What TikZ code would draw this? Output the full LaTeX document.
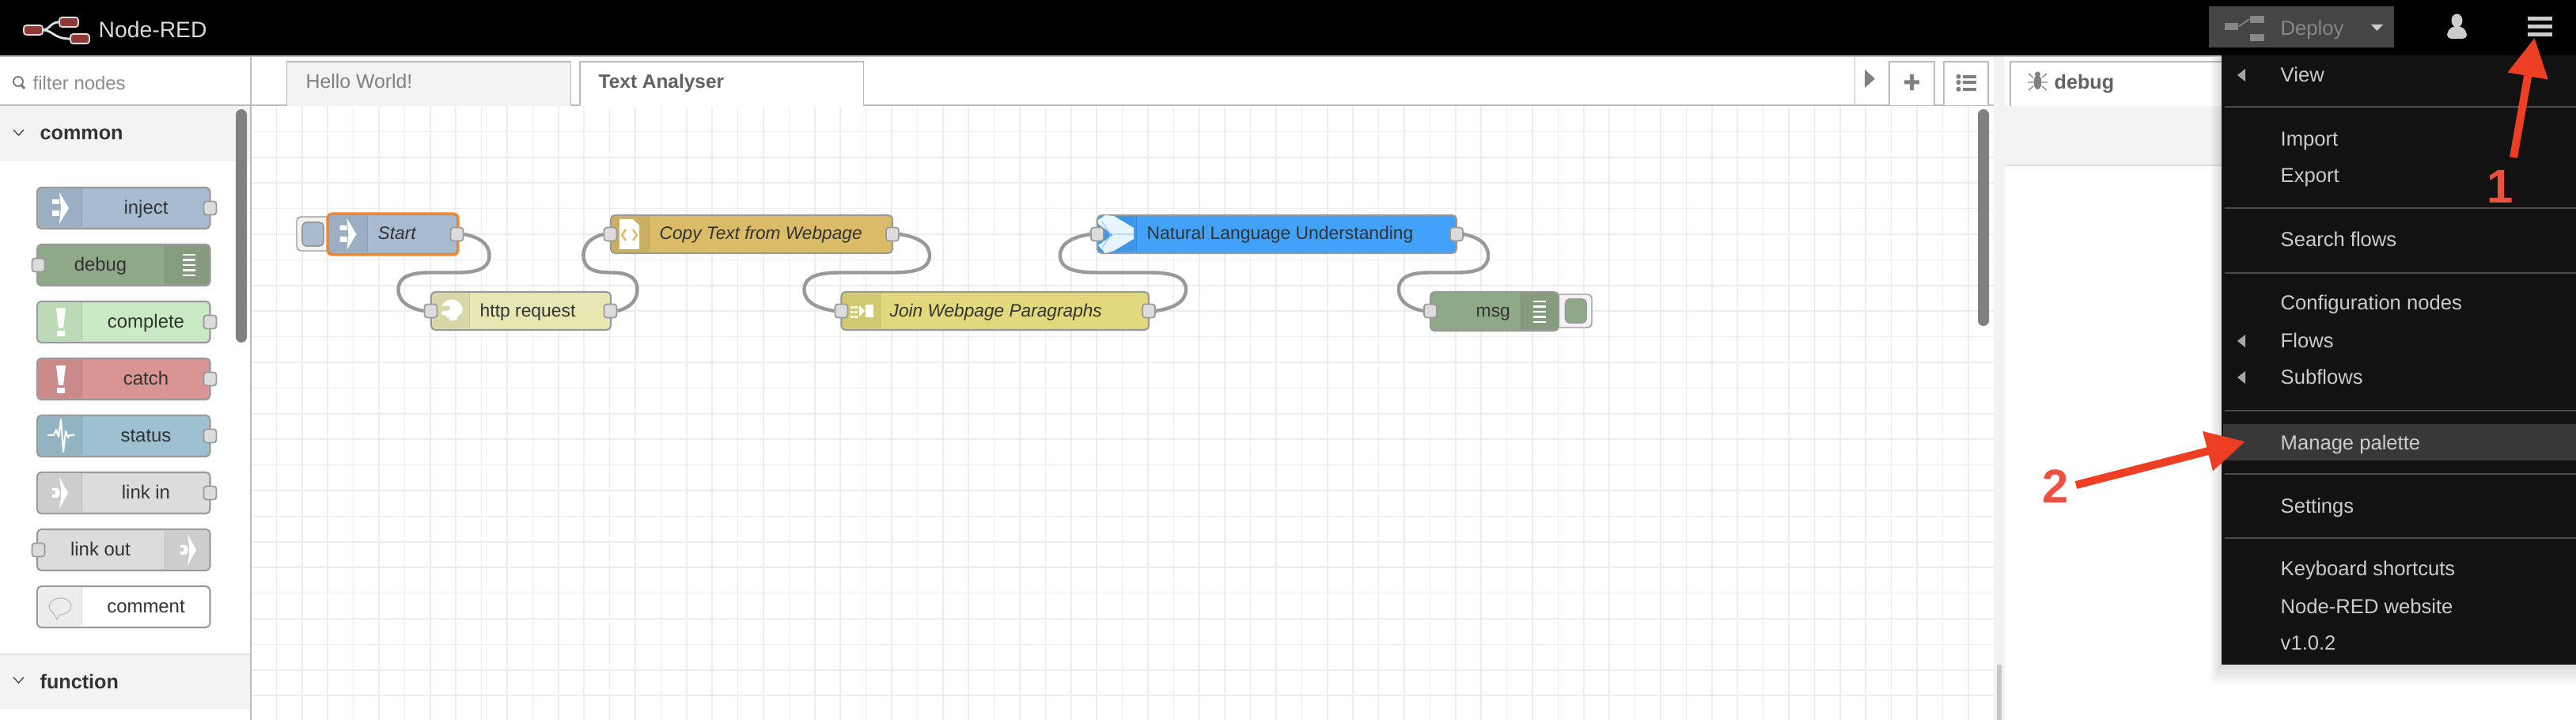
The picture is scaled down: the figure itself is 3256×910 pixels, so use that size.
\documentclass[tikz,border=0pt]{standalone}
\usepackage{fontspec}
\setmainfont{Liberation Sans}
\usetikzlibrary{arrows.meta}

\definecolor{injectc}{HTML}{A8BBD0}
\definecolor{debugc}{HTML}{8FA888}
\definecolor{completec}{HTML}{C9EAC3}
\definecolor{catchc}{HTML}{D99494}
\definecolor{statusc}{HTML}{9DC1D0}
\definecolor{linkc}{HTML}{DCDCDC}
\definecolor{httpc}{HTML}{E7E7B4}
\definecolor{copyc}{HTML}{D9BB68}
\definecolor{joinc}{HTML}{E1D97C}
\definecolor{nluc}{HTML}{42A1F8}
\definecolor{linec}{HTML}{999999}
\definecolor{panelc}{HTML}{F3F3F3}
\definecolor{borderc}{HTML}{BBBBBB}
\definecolor{menuc}{HTML}{121212}
\definecolor{redc}{HTML}{EE3F24}
\definecolor{numberc}{HTML}{EE5040}
\definecolor{selectc}{HTML}{F4862C}
\definecolor{logoc}{HTML}{8F3A36}

\tikzset{
  nodebox/.style={draw=linec, line width=.6pt, rounded corners=1.5pt, inner sep=0pt},
  portbox/.style={draw=linec, fill=linkc, line width=.5pt, rounded corners=1pt, inner sep=0pt, minimum width=.16cm, minimum height=.17cm},
  uitext/.style={inner sep=0pt, text height=5pt, text depth=0pt, text=black!80},
  flowtext/.style={uitext, anchor=west, font=\fontsize{6.5}{8}\selectfont},
  flowitalic/.style={flowtext, font=\itshape\fontsize{6.45}{8}\selectfont},
  palettetext/.style={uitext, font=\fontsize{6.8}{8}\selectfont},
  headtext/.style={uitext, anchor=west, font=\bfseries\fontsize{7.15}{8}\selectfont},
  menutext/.style={uitext, anchor=west, text=black!20, font=\fontsize{7.28}{8}\selectfont},
  wire/.style={draw=linec, line width=1.25pt},
  gridline/.style={draw=black!7, line width=.5pt},
  redarrow/.style={draw=redc, line width=2.85pt, -{Triangle[length=.49cm,width=.49cm]}},
  rednumber/.style={inner sep=0pt, text=numberc, font=\bfseries\fontsize{17}{18}\selectfont},
  logobox/.style={draw=black!12, fill=logoc, line width=.5pt, rounded corners=1pt, inner sep=0pt, minimum width=.24cm, minimum height=.12cm},
  deploybox/.style={fill=black!47, inner sep=0pt, minimum width=.18cm, minimum height=.09cm}
}

% node with icon strip on the left / on the right
\newcommand{\nrleft}[7]{%
  \node[nodebox, fill=#7, minimum width={(#4-#2)*.01cm}, minimum height={(#5-#3)*.01cm}] (#1) at ({(#2+#4)/2},{(#3+#5)/2}) {};
  \fill[#7!93!black] ({#6},{#3+1.5}) {[rounded corners=1.2pt] -- ({#2+1.5},{#3+1.5}) -- ({#2+1.5},{#5-1.5}) -- ({#6},{#5-1.5})} -- cycle;
  \draw[#7!85!black, line width=.25pt] ({#6},{#3+1.5}) -- ({#6},{#5-1.5});
}
\newcommand{\nrright}[7]{%
  \node[nodebox, fill=#7, minimum width={(#4-#2)*.01cm}, minimum height={(#5-#3)*.01cm}] (#1) at ({(#2+#4)/2},{(#3+#5)/2}) {};
  \fill[#7!93!black] ({#6},{#3+1.5}) {[rounded corners=1.2pt] -- ({#4-1.5},{#3+1.5}) -- ({#4-1.5},{#5-1.5}) -- ({#6},{#5-1.5})} -- cycle;
  \draw[#7!85!black, line width=.25pt] ({#6},{#3+1.5}) -- ({#6},{#5-1.5});
}
% wire: source port, target port, bulge, +1 down / -1 up
\newcommand{\wirelink}[4]{%
  \draw[wire] (#1.east) .. controls ([shift={({#3*.6},{#4*3})}]#1.center) and ([shift={(#3,{#4*10})}]#1.center) .. ([shift={(#3,{#4*27})}]#1.center)
    .. controls ([shift={(#3,{#4*44})}]#1.center) and ([shift={({#3*.6},{#4*48.5})}]#1.center) .. ([shift={(0,{#4*48.5})}]#1.center)
    -- ([shift={(0,{-#4*48.5})}]#2.center)
    .. controls ([shift={({-#3*.6},{-#4*48.5})}]#2.center) and ([shift={(-#3,{-#4*44})}]#2.center) .. ([shift={(-#3,{-#4*27})}]#2.center)
    .. controls ([shift={(-#3,{-#4*10})}]#2.center) and ([shift={({-#3*.6},{-#4*3})}]#2.center) .. (#2.west);
}
\newcommand{\injecticon}[2]{%
  \begin{scope}[shift={(#1,#2)}]
    \fill[white] (-10,-11) rectangle (-1,-5) (-10,3) rectangle (-1,10);
    \fill[white] (-1,-20) -- (11,0) -- (-1,20) -- (1,0) -- cycle;
  \end{scope}
}
\newcommand{\linesicon}[2]{%
  \begin{scope}[shift={(#1,#2)}]
    \foreach \ly in {-13,-6.5,0,6.5,13} \fill[white] (-8,{\ly-1.2}) rectangle (8,{\ly+1.2});
  \end{scope}
}
\newcommand{\bangicon}[2]{%
  \begin{scope}[shift={(#1,#2)}]
    \fill[white] (-6,-13) -- (6,-13) -- (3,12) -- (-3,12) -- cycle;
    \fill[white] (-5,15.5) rectangle (5,22.5);
  \end{scope}
}
\newcommand{\linkicon}[2]{%
  \begin{scope}[shift={(#1,#2)}]
    \fill[white] (-1,-20) -- (10,0) -- (-1,20) -- (1,6) -- (1,-6) -- cycle;
    \fill[white] (-10,-6) -- (-4,-6) .. controls (1,-6) and (1,6) .. (-4,6) -- (-10,6) -- cycle;
    \fill[linkc!93!black] (-10,-2.5) rectangle (-6,2.5);
  \end{scope}
}

\begin{document}
\begin{tikzpicture}[x=.01cm, y=-.01cm]
\useasboundingbox (0,0) rectangle (3256,910);
\fill[white] (0,0) rectangle (3256,910);

% workspace grid
\foreach \k in {1,...,67} \draw[gridline] ({317+32.4*\k},134) -- ({317+32.4*\k},910);
\foreach \k in {1,...,23} \draw[gridline] (318,{134+32.4*\k}) -- (2520,{134+32.4*\k});

% top bar
\fill[black] (0,0) rectangle (3256,70);
\fill[borderc] (0,70) rectangle (3256,72);
\node[logobox] (logoa) at (42,38) {};
\node[logobox] (logob) at (87,28) {};
\node[logobox] (logoc) at (101,49) {};
\draw[black!12, line width=.8pt] (logoa.east) .. controls (62,38) and (64,28) .. (logob.west);
\draw[black!12, line width=.8pt] (logoa.east) .. controls (66,38) and (68,49) .. (logoc.west);
\node[uitext, anchor=west, text=black!15, font=\fontsize{8.05}{9}\selectfont] (title) at (124,39) {Node-RED};

% deploy button, user, menu button
\fill[black!73] (2792,8) rectangle (3026,60);
\node[deploybox, minimum width=.17cm] (deploya) at (2820.5,33.5) {};
\node[deploybox] (deployb) at (2852.5,24.5) {};
\node[deploybox] (deployc) at (2852.5,47.5) {};
\draw[black!47, line width=.5pt] (deploya.east) -- (deployb.west);
\node[menutext, text=black!47] (deploy) at (2882,36) {Deploy};
\fill[black!20] (2997,31) -- (3012,31) -- (3004.5,39) -- cycle;
\fill[black!20] (3105.5,26) ellipse (7 and 8.5);
\fill[black!20, rounded corners=1.5pt] (3093,49) -- (3093,40) -- (3100,33) -- (3111,33) -- (3118,40) -- (3118,49) -- cycle;
\node[minimum width=.32cm, minimum height=.26cm, inner sep=0pt] (menubtn) at (3210,33) {};
\foreach \by in {20.7,30.7,41} \fill[black!20] (3194.5,\by) rectangle (3225.5,{\by+5});

% palette
\fill[borderc] (0,132) rectangle (317,134);
\fill[borderc] (316,72) rectangle (318,910);
\fill[panelc] (0,134) rectangle (316,204);
\fill[panelc] (0,827) rectangle (316,896);
\fill[black!12] (0,826) rectangle (316,828);
\fill[black!50, rounded corners=2pt] (298,138) rectangle (312,433);
\draw[black!55, line width=.5pt] (23,103) circle (6);
\draw[black!55, line width=.8pt] (27.5,108) -- (31,112);
\node[uitext, anchor=west, text=black!45, font=\fontsize{6.8}{8}\selectfont] (filter) at (41,105) {filter nodes};
\draw[black!70, line width=.4pt] (17,164) -- (23.5,171) -- (30,164);
\node[headtext] (common) at (50,168) {common};
\draw[black!70, line width=.4pt] (17,856) -- (23.5,863) -- (30,856);
\node[headtext] (function) at (50,862) {function};

\nrleft{ninject}{47}{237}{265.5}{289}{103.6}{injectc}
\nrright{ndebug}{47}{309}{265.5}{361}{208.5}{debugc}
\nrleft{ncomplete}{47}{381}{265.5}{433}{103.6}{completec}
\nrleft{ncatch}{47}{453}{265.5}{505}{103.6}{catchc}
\nrleft{nstatus}{47}{525}{265.5}{577}{103.6}{statusc}
\nrleft{nlinkin}{47}{597}{265.5}{649}{103.6}{linkc}
\nrright{nlinkout}{47}{669}{265.5}{721}{208.5}{linkc}
\nrleft{ncomment}{47}{741}{265.5}{793}{103.6}{white}
\injecticon{76}{263}
\linesicon{239}{335}
\bangicon{77}{402.5}
\bangicon{77}{475}
\draw[white, line width=.6pt, line join=round] (60,550) -- (68,550) -- (71,543) -- (74,552) -- (77,530) -- (80,571) -- (83,545) -- (86,553) -- (88,550) -- (94,550);
\linkicon{76}{623}
\linkicon{238}{695}
\draw[black!28, line width=.3pt] (72,783) -- (68,775) .. controls (56,768) and (64,756) .. (77,756) .. controls (94,756) and (95,776) .. (75,777) -- cycle;
\node[palettetext] (tinject) at (184.5,262) {inject};
\node[palettetext] (tdebug) at (127,334) {debug};
\node[palettetext] (tcomplete) at (184.5,406) {complete};
\node[palettetext] (tcatch) at (184.5,478) {catch};
\node[palettetext] (tstatus) at (184.5,550) {status};
\node[palettetext] (tlinkin) at (184.5,622) {link in};
\node[palettetext] (tlinkout) at (127,694) {link out};
\node[palettetext] (tcomment) at (184.5,766) {comment};
\foreach \py/\pn in {263/ninject,407/ncomplete,479/ncatch,551/nstatus,623/nlinkin}
  \node[portbox] (p\pn) at (265.5,\py) {};
\foreach \py/\pn in {335/ndebug,695/nlinkout}
  \node[portbox] (p\pn) at (48.5,\py) {};

% tabs
\fill[borderc] (318,132) rectangle (2520,134);
\filldraw[fill=panelc, draw=borderc, line width=.55pt] (362.5,134) -- (362.5,78) -- (721.5,78) -- (721.5,134);
\filldraw[fill=white, draw=borderc, line width=.55pt] (733,134) -- (733,78) -- (1091.5,78) -- (1091.5,134);
\fill[white] (734,131) rectangle (1090.5,135);
\node[uitext, anchor=west, text=black!50, font=\fontsize{7.05}{8}\selectfont] (hello) at (386,103) {Hello World!};
\node[headtext, text=black!62, font=\bfseries\fontsize{6.95}{8}\selectfont] (analyser) at (756,103) {Text Analyser};
\draw[borderc, line width=.55pt] (2344.5,72) -- (2344.5,133);
\fill[black!50] (2357,88) -- (2370,99.5) -- (2357,111) -- cycle;
\filldraw[fill=white, draw=borderc, line width=.55pt] (2388,133) -- (2388,78) -- (2445,78) -- (2445,133);
\filldraw[fill=white, draw=borderc, line width=.55pt] (2457,133) -- (2457,78) -- (2513,78) -- (2513,133);
\fill[black!50] (2407,101.5) rectangle (2426,106.5) (2414,94) rectangle (2419,114);
\foreach \ly in {96.7,104,112.7} {
  \fill[black!50] (2475.5,\ly) circle (3);
  \fill[black!50] (2481,{\ly-2}) rectangle (2498,{\ly+2});
}

% scrollbars
\fill[black!50, rounded corners=2pt] (2500,138) rectangle (2514,412);
\fill[panelc] (2520,72) rectangle (2534,910);
\fill[black!22] (2524,840) rectangle (2530,910);

% right sidebar
\fill[white] (2534,72) rectangle (3256,910);
\fill[panelc] (2534,134) rectangle (3256,208);
\fill[black!13] (2534,208) rectangle (3256,210);
\filldraw[fill=white, draw=borderc, line width=.55pt] (2541,134) -- (2541,78) -- (2830,78) -- (2830,134);
\fill[black!50] (2575.5,104) ellipse (5 and 9);
\fill[black!50] (2575.5,94) circle (3.5);
\draw[black!50, line width=.35pt] (2564,93) -- (2570,98) (2587,93) -- (2581,98) (2563,104) -- (2570,104) (2581,104) -- (2588,104) (2564,114) -- (2570,109) (2587,114) -- (2581,109);
\node[headtext, text=black!62] (tabdebug) at (2596,104) {debug};

% menu and its shadow
\foreach \d in {2,4,...,14} \fill[black, opacity=.02] ({2808-\d},72) rectangle (3256,{840+\d*1.8});
\fill[menuc] (2808,70) rectangle (3256,840);
\fill[black!78] (2810,536) rectangle (3256,582);
\foreach \y in {135,263,345,519,599,680} \fill[black!70] (2812,{\y-1}) rectangle (3256,{\y+1});
\foreach \y/\t in {95/View,176/Import,222/Export,303/Search flows,383/Configuration nodes,431/Flows,477/Subflows,560/Manage palette,640/Settings,719/Keyboard shortcuts,767/Node-RED website,813/v1.0.2}
  \node[menutext] (m\y) at (2882,\y) {\t};
\foreach \y in {95,431,477} \fill[black!35] (2838,{\y-8}) -- (2828,\y) -- (2838,{\y+8}) -- cycle;

% flow
\filldraw[fill=panelc, draw=linec, line width=.4pt, rounded corners=1.5pt] (420,274) -- (375,274) -- (375,317) -- (420,317);
\filldraw[fill=injectc, draw=linec, line width=.5pt, rounded corners=1.5pt] (382,281) rectangle (409,311);
\nrleft{nstart}{415}{271}{578}{321}{464}{injectc}
\draw[draw=selectc, line width=.85pt, rounded corners=1.5pt] (nstart.north west) rectangle (nstart.south east);
\injecticon{439.5}{296}
\nrleft{nhttp}{545}{369}{772}{417}{593.6}{httpc}
\nrleft{ncopy}{772}{272}{1128}{320}{820.6}{copyc}
\nrleft{njoin}{1063.5}{369}{1452}{417}{1112}{joinc}
\nrleft{nnlu}{1387}{272}{1841}{320}{1436}{nluc}
\filldraw[fill=panelc, draw=linec, line width=.4pt, rounded corners=1.5pt] (1965,372) -- (2012,372) -- (2012,414) -- (1965,414);
\filldraw[fill=debugc, draw=linec, line width=.5pt, rounded corners=1.5pt] (1978.6,378) rectangle (2005,408);
\nrright{nmsg}{1808}{369}{1970}{418}{1922}{debugc}
\linesicon{1946}{394}

% globe icon
\fill[white] (571,392) circle (13.5);
\fill[httpc!93!black] (557,388) .. controls (561,386) and (566,386) .. (569,388) .. controls (570,391) and (566,393) .. (562,393) -- (556,394) -- cycle;
\fill[httpc!93!black] (555,398) .. controls (561,397) and (566,399) .. (570,407) -- (555,407) -- cycle;
\fill[httpc!93!black] (578,405) .. controls (577,400) and (581,397) .. (586,396) -- (586,406) -- cycle;
% page icon
\fill[white] (783,277) -- (800,277) -- (808,285) -- (808,315) -- (783,315) -- cycle;
\draw[copyc, line width=.7pt] (791,290) -- (786,297) -- (791,304) (800,290) -- (805,297) -- (800,304);
% join icon
\foreach \jx in {1075,1080} \foreach \jy in {387,393,399} \fill[white] (\jx,\jy) rectangle ({\jx+3.5},{\jy+3.5});
\fill[white] (1086,386) -- (1093,393) -- (1086,400) -- cycle;
\fill[white] (1094,385) rectangle (1104,401);
% watson icon
\fill[white!88!nluc] (1388,278) -- (1397,272) -- (1408,273) -- (1433,288) -- (1433,302) -- (1408,317) -- (1397,320) -- (1388,310) -- (1407,297) -- (1388,283) -- cycle;
\draw[nluc!55!white, line width=.35pt] (1393,280) -- (1404,297) -- (1393,313) (1408,296) -- (1433,296);

\node[portbox] (startout) at (577.5,296) {};
\node[portbox] (httpin) at (544.5,393) {};
\node[portbox] (httpout) at (771.5,393) {};
\node[portbox] (copyin) at (771.5,296) {};
\node[portbox] (copyout) at (1128,296) {};
\node[portbox] (joinin) at (1063.5,393) {};
\node[portbox] (joinout) at (1452,393) {};
\node[portbox] (nluin) at (1387,296) {};
\node[portbox] (nluout) at (1841,296) {};
\node[portbox] (msgin) at (1808,393) {};

\wirelink{startout}{httpin}{41}{1}
\wirelink{httpout}{copyin}{34}{-1}
\wirelink{copyout}{joinin}{47}{1}
\wirelink{joinout}{nluin}{47}{-1}
\wirelink{nluout}{msgin}{40}{1}

\node[flowitalic] (tstart) at (477,294) {Start};
\node[flowtext] (thttp) at (606,392) {http request};
\node[flowitalic] (tcopy) at (833,294) {Copy Text from Webpage};
\node[flowitalic] (tjoin) at (1124,392) {Join Webpage Paragraphs};
\node[flowtext] (tnlu) at (1449,294) {Natural Language Understanding};
\node[flowtext] (tmsg) at (1865,392) {msg};

% red arrows
\coordinate (onetail) at (3177,199);
\coordinate (onehead) at (3203.6,47.7);
\coordinate (twotail) at (2624,613);
\coordinate (twohead) at (2838,558);
\draw[redarrow] (onetail) -- (onehead);
\draw[redarrow] (twotail) -- (twohead);
\node[rednumber] (one) at (3160,235.5) {1};
\node[rednumber] (two) at (2598,614.5) {2};
\end{tikzpicture}
\end{document}
